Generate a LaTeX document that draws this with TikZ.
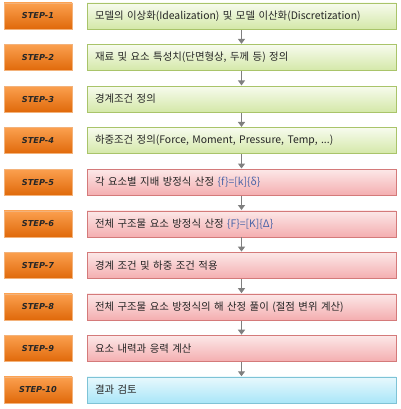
\documentclass[tikz,border=0pt]{standalone}
\usepackage{fontspec}
\newfontfamily\krfont{Noto Sans CJK KR}
\newfontfamily\stepfont{DejaVu Sans}
\usetikzlibrary{arrows.meta,shadows}
\definecolor{StepTop}{HTML}{FBA04F}
\definecolor{StepBottom}{HTML}{E0690A}
\definecolor{StepBorder}{HTML}{F3B27A}
\definecolor{GreenTop}{HTML}{F7FBEE}
\definecolor{GreenBottom}{HTML}{D4E8A8}
\definecolor{GreenBorder}{HTML}{A9C46A}
\definecolor{PinkTop}{HTML}{FCE8E8}
\definecolor{PinkBottom}{HTML}{F4AEB0}
\definecolor{PinkBorder}{HTML}{D47A7A}
\definecolor{BlueTop}{HTML}{E8F8FD}
\definecolor{BlueBottom}{HTML}{A9E6F8}
\definecolor{BlueBorder}{HTML}{7EC3D6}
\definecolor{FormulaBlue}{HTML}{4A64A8}
\definecolor{FlowGray}{HTML}{7F7F7F}

\begin{document}
\begin{tikzpicture}[x=1pt,y=-1pt,
    stepbox/.style={draw=StepBorder, top color=StepTop, bottom color=StepBottom,
      minimum width=68pt, minimum height=26pt, inner sep=0pt,
      font=\stepfont\bfseries\itshape\fontsize{8.2}{10}\selectfont, text=black!85,
      drop shadow={opacity=0.25, shadow xshift=0.8pt, shadow yshift=-0.8pt}},
    taskbox/.style={minimum height=26pt, text width=293pt, inner xsep=8pt,
      inner ysep=0pt, align=left, font=\krfont\fontsize{10.4}{12}\selectfont,
      text=black!85,
      drop shadow={opacity=0.25, shadow xshift=0.8pt, shadow yshift=-0.8pt}},
    Green/.style={draw=GreenBorder, top color=GreenTop, bottom color=GreenBottom},
    Pink/.style={draw=PinkBorder, top color=PinkTop, bottom color=PinkBottom},
    Blue/.style={draw=BlueBorder, top color=BlueTop, bottom color=BlueBottom},
    flow/.style={draw=FlowGray, line width=1.8pt,
      -{Triangle[length=5pt,width=7pt]}, shorten <=0.5pt, shorten >=0.5pt}]
  \useasboundingbox (0,0) rectangle (400,409);
  \foreach \i/\kind/\txt in {
      1/Green/{모델의 이상화(Idealization) 및 모델 이산화(Discretization)},
      2/Green/{재료 및 요소 특성치(단면형상, 두께 등) 정의},
      3/Green/{경계조건 정의},
      4/Green/{하중조건 정의(Force, Moment, Pressure, Temp, ...)},
      5/Pink/{각 요소별 지배 방정식 산정 \textcolor{FormulaBlue}{\{f\}=[k]\{δ\}}},
      6/Pink/{전체 구조물 요소 방정식 산정 \textcolor{FormulaBlue}{\{F\}=[K]\{Δ\}}},
      7/Pink/{경계 조건 및 하중 조건 적용},
      8/Pink/{전체 구조물 요소 방정식의 해 산정 풀이 (절점 변위 계산)},
      9/Pink/{요소 내력과 응력 계산},
      10/Blue/{결과 검토}} {
    \node[stepbox] (s\i) at (38,{16+41.55*(\i-1)}) {STEP-\i};
    \node[taskbox,\kind] (b\i) at (241.5,{16+41.55*(\i-1)}) {\txt};
  }
  \foreach \i [evaluate=\i as \j using int(\i+1)] in {1,...,9}
    \draw[flow] (b\i.south) -- (b\j.north);
\end{tikzpicture}
\end{document}
